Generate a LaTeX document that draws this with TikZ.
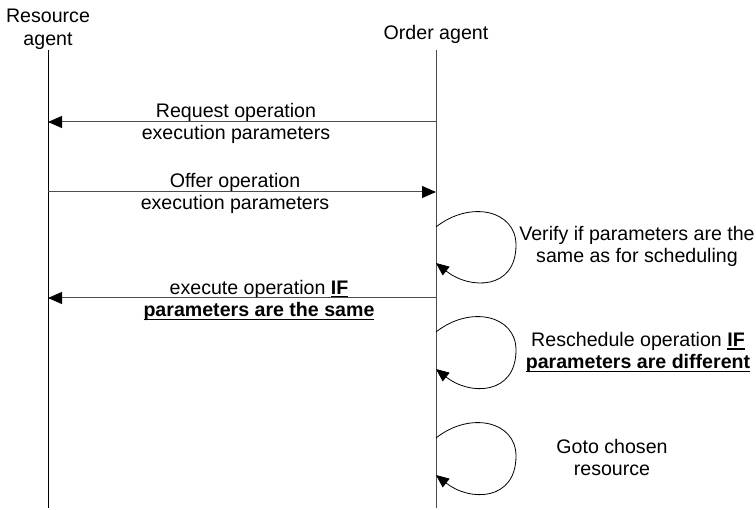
\documentclass[tikz,border=0pt]{standalone}
\usepackage{fontspec}
\setmainfont{Liberation Sans}
\usetikzlibrary{calc,arrows.meta,positioning}

\newcommand{\ulbf}[1]{{\bfseries\setbox0=\hbox{#1}\rlap{\rule[-3.5pt]{\wd0}{1.3pt}}\box0}}

\begin{document}
\begin{tikzpicture}[x=1pt,y=-1pt,
        every node/.style={font=\fontsize{19.6}{22.5}\selectfont, inner sep=0pt, align=center},
        life/.style={line width=1pt},
        msg/.style={line width=1pt, draw=black!70, -{Triangle[length=14pt,width=12pt,color=black]}},
        self/.style={line width=0.8pt, -{Triangle[length=13pt,width=11pt]}}]
        \useasboundingbox (0,0) rectangle (756,510);

        % agents and lifelines
        \node (res) at (48,29.3) {Resource\\agent};
        \node[anchor=base] (ord) at (436,40) {Order agent};
        \coordinate (res-bot) at (48,508);
        \coordinate (ord-bot) at (436,508);
        \draw[life] (res.south) -- (res-bot);
        \draw[life, draw=black!70, shorten <=6pt] (ord.south) -- (ord-bot);

        % messages
        \coordinate (req-o) at (436,122);
        \coordinate (req-r) at (48,122);
        \coordinate (off-r) at (48,192);
        \coordinate (off-o) at (436,192);
        \coordinate (exe-o) at (436,298);
        \coordinate (exe-r) at (48,298);
        \node (req) at (236,123.3) {Request operation\\execution parameters};
        \node (off) at (235,193.3) {Offer operation\\execution parameters};
        \node (exe) at (259,300.3) {execute operation \ulbf{IF}\\\ulbf{parameters are the same}};
        \draw[msg] (req-o) -- (req-r);
        \draw[msg] (off-r) -- (off-o);
        \draw[msg] (exe-o) -- (exe-r);

        % self messages of the order agent
        \coordinate (ver-out) at (436,227);
        \coordinate (ver-mid) at (516,245);
        \coordinate (ver-in) at (436,263);
        \coordinate (rsc-out) at (436,332);
        \coordinate (rsc-mid) at (516,350);
        \coordinate (rsc-in) at (436,369);
        \coordinate (go-out) at (436,438);
        \coordinate (go-mid) at (516,456);
        \coordinate (go-in) at (436,475);
        \draw[self] (ver-out) .. controls +(34,-27) and +(0,-35) .. (ver-mid) .. controls +(0,45) and +(34,27) .. (ver-in);
        \draw[self] (rsc-out) .. controls +(34,-27) and +(0,-35) .. (rsc-mid) .. controls +(0,45) and +(34,27) .. (rsc-in);
        \draw[self] (go-out) .. controls +(34,-27) and +(0,-35) .. (go-mid) .. controls +(0,45) and +(34,27) .. (go-in);
        \node (ver) at (637,246.3) {Verify if parameters are the\\same as for scheduling};
        \node (rsc) at (638,352.3) {Reschedule operation \ulbf{IF}\\\ulbf{parameters are different}};
        \node (go) at (612,457.3) {Goto chosen\\resource};
\end{tikzpicture}
\end{document}
